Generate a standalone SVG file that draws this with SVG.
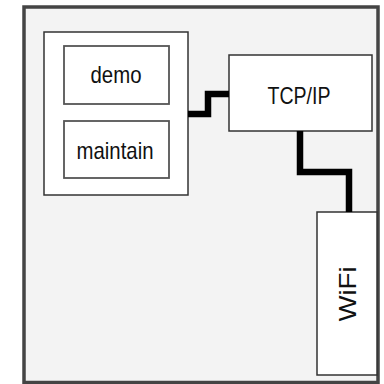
<svg xmlns="http://www.w3.org/2000/svg" width="384" height="384" viewBox="0 0 384 384">
<style>
.box{fill:#fff;stroke:#333;stroke-width:1.5}
.sub{fill:#fff;stroke:#555;stroke-width:1.8}
.lbl{font-family:"Liberation Sans",Arial,Helvetica,sans-serif;font-size:24px;fill:#111;text-anchor:middle}
.wire{fill:none;stroke:#000;stroke-width:6.5;stroke-linejoin:miter;stroke-linecap:butt}
</style>
<rect x="0" y="0" width="384" height="384" fill="#fff"/>
<g id="frame">
<rect x="24" y="7" width="354" height="375.5" fill="#f3f3f3" stroke="#444" stroke-width="3.5"/>
</g>
<g id="container">
<rect class="box" x="44" y="32" width="144" height="163"/>
</g>
<g id="demo">
<rect class="sub" x="64" y="46" width="105" height="58"/>
<text class="lbl" x="116" y="83" textLength="51" lengthAdjust="spacingAndGlyphs">demo</text>
</g>
<g id="maintain">
<rect class="sub" x="64" y="121" width="105" height="57"/>
<text class="lbl" x="115" y="159" textLength="77" lengthAdjust="spacingAndGlyphs">maintain</text>
</g>
<g id="tcpip">
<rect class="box" x="229" y="55" width="143" height="76"/>
<text class="lbl" x="299" y="104" textLength="63" lengthAdjust="spacingAndGlyphs">TCP/IP</text>
</g>
<g id="wifi">
<rect class="box" x="317" y="212" width="60" height="163"/>
<text class="lbl" transform="translate(355.5,294) rotate(-90)" x="0" y="0" textLength="55" lengthAdjust="spacingAndGlyphs">WiFi</text>
</g>
<g id="connectors">
<path class="wire" d="M188,114 H208 V94 H229"/>
<path class="wire" d="M300,131 V172 H349 V212"/>
</g>
</svg>
